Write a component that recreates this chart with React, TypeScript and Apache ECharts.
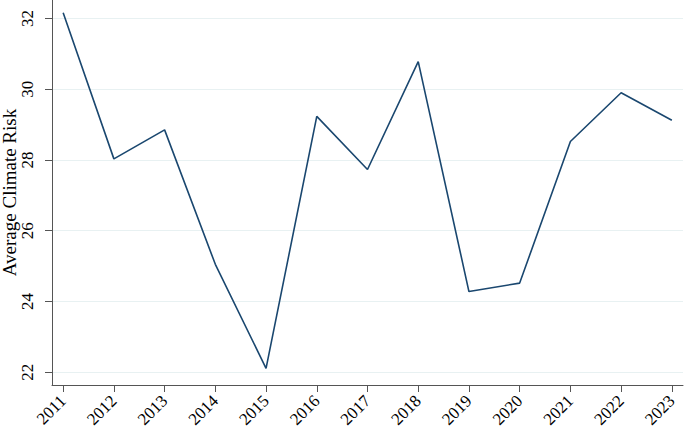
import React, { useEffect, useRef } from "react";
import * as echarts from "echarts";

const years = [2011, 2012, 2013, 2014, 2015, 2016, 2017, 2018, 2019, 2020, 2021, 2022, 2023];
const riskValues = [32.16, 28.03, 28.85, 25.05, 22.11, 29.23, 27.73, 30.78, 24.28, 24.52, 28.52, 29.9, 29.12];
const yTicks = [22, 24, 26, 28, 30, 32];
const yAxisTitle = "Average Climate Risk";

export default function App() {
  const ref = useRef<HTMLDivElement>(null);
  useEffect(() => {
    if (!ref.current) return;
    const chart = echarts.init(ref.current, null, { renderer: "svg" });
    const font = "Liberation Serif, Times New Roman, serif";
    chart.setOption({
      animation: false,
      backgroundColor: "#ffffff",
      grid: { left: 52, right: 2, top: 0, bottom: 44, containLabel: false, outerBoundsMode: "none" },
      xAxis: {
        type: "value",
        min: 2010.78,
        max: 2023.22,
        axisLine: { show: true, onZero: false, lineStyle: { color: "#555555", width: 1 } },
        axisTick: { show: true, length: 7, customValues: years, lineStyle: { color: "#555555" } },
        axisLabel: {
          customValues: years,
          rotate: 45,
          margin: 13,
          fontFamily: font,
          fontSize: 17,
          color: "#000000",
          formatter: (v: number) => String(Math.round(v)),
        },
        splitLine: { show: false },
      },
      yAxis: {
        type: "value",
        min: 21.64,
        max: 32.52,
        name: yAxisTitle,
        nameLocation: "middle",
        nameRotate: 90,
        nameGap: 33,
        nameMoveOverlap: false,
        nameTextStyle: { fontFamily: font, fontSize: 19, color: "#000000" },
        axisLine: { show: true, lineStyle: { color: "#555555", width: 1 } },
        axisTick: { show: true, length: 7, customValues: yTicks, lineStyle: { color: "#555555" } },
        axisLabel: {
          customValues: yTicks,
          rotate: 90,
          margin: 16,
          fontFamily: font,
          fontSize: 17,
          color: "#000000",
        },
        splitLine: { show: true, lineStyle: { color: "#e8f1f2", width: 1 } },
      },
      series: [
        {
          type: "line",
          data: years.map((y, i) => [y, riskValues[i]]),
          symbol: "none",
          lineStyle: { color: "#1a476f", width: 1.6 },
          itemStyle: { color: "#1a476f" },
        },
      ],
    });
    return () => chart.dispose();
  }, []);
  return <div ref={ref} style={{ width: 685, height: 429, position: "absolute", left: 0, top: 0 }} />;
}
